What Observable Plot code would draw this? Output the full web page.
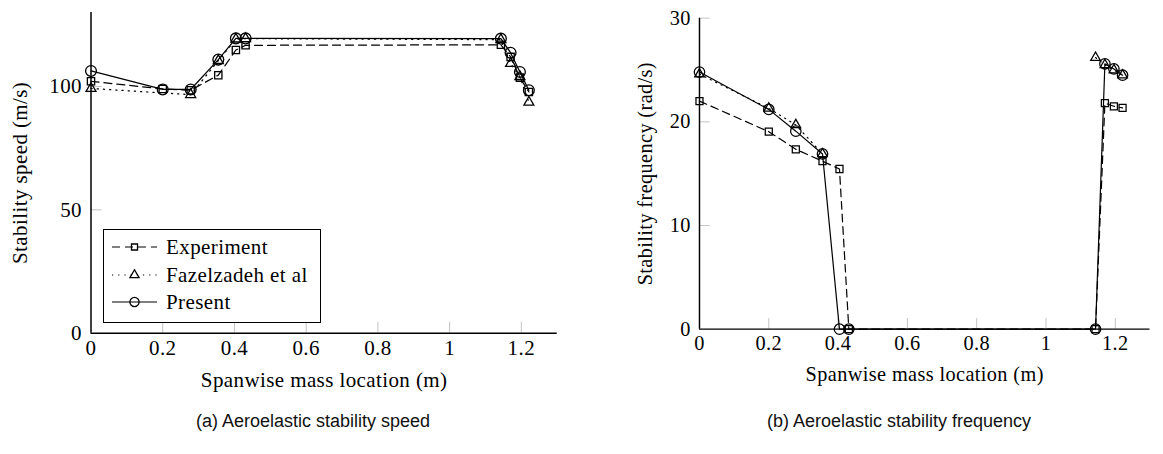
<!DOCTYPE html>
<html>
<head>
<meta charset="utf-8">
<script src="https://cdn.jsdelivr.net/npm/d3@7"></script>
<script src="https://cdn.jsdelivr.net/npm/@observablehq/plot@0.6"></script>
<style>
  html, body { margin: 0; padding: 0; background: #fff; overflow: hidden; }
  #wrap { position: relative; width: 1163px; height: 454px; overflow: hidden; background: #fff; }
  .panel { position: absolute; top: 0; }
  .panel svg, .panel svg text { font-family: "Liberation Serif", "DejaVu Serif", serif !important; letter-spacing: 0.4px; }
  .caption { position: absolute; top: 411px; font-family: "Liberation Sans", Arial, sans-serif; font-size: 18px; color: #111; transform: translateX(-50%); white-space: nowrap; }
  .legend { position: absolute; left: 103px; top: 229px; width: 216px; height: 92px; border: 1.2px solid #000; background: #fff; font-family: "Liberation Serif", "DejaVu Serif", serif; font-size: 21px; letter-spacing: 0.4px; color: #000; }
  .row { position: absolute; left: 0; height: 24px; }
  .row svg { position: absolute; left: 8px; top: 0; }
  .row span { position: absolute; left: 62px; top: 0; line-height: 24px; white-space: nowrap; }
</style>
</head>
<body>
<div id="wrap">
  <div id="left" class="panel" style="left:0px"></div>
  <div id="right" class="panel" style="left:583px"></div>
  <div id="legend" class="legend"></div>
  <div class="caption" style="left:313px">(a) Aeroelastic stability speed</div>
  <div class="caption" style="left:899px">(b) Aeroelastic stability frequency</div>
</div>
<script>
// ---- data ----
const spanLocation = [0, 0.2, 0.278, 0.355, 0.404, 0.431, 1.143, 1.170, 1.196, 1.221];

const speedExperiment  = [102.1, 99.0, 98.5, 104.6, 114.8, 116.7, 116.9, 112.0, 103.6, 97.8];
const speedFazelzadeh  = [99.2, null, 96.7, 110.5, 119.2, 119.4, 119.0, 109.3, 104.0, 93.6];
const speedPresent     = [106.3, 98.8, 98.8, 110.9, 119.5, 119.5, 119.4, 113.7, 105.9, 98.5];

const freqExperiment   = [22.0, 19.05, 17.35, 16.2, 15.45, 0, 0, 21.8, 21.5, 21.35];
const freqFazelzadeh   = [24.6, 21.3, 19.7, 16.9, null, null, 26.2, 25.5, 25.0, 24.5];
const freqPresent      = [24.8, 21.2, 19.1, 16.9, 0, 0, 0, 25.6, 25.1, 24.5];

const seriesNames = ["Experiment", "Fazelzadeh et al", "Present"];
const xTicks = [0, 0.2, 0.4, 0.6, 0.8, 1, 1.2];
const speedTicks = [0, 50, 100];
const freqTicks = [0, 10, 20, 30];

// ---- styles ----
const styles = {
  "Experiment":       {symbol: "square",   r: 4.1, dash: "8,5"},
  "Fazelzadeh et al": {symbol: "triangle", r: 3.7, dash: "1.2,5"},
  "Present":          {symbol: "circle",   r: 5.4, dash: null}
};
const FONT = '"Liberation Serif", "DejaVu Serif", serif';
const FS = 21;

function rowsFor(values, gapBreak) {
  const rows = [];
  let seg = 0;
  values.forEach((v, i) => {
    if (v == null) { if (gapBreak) seg++; return; }
    rows.push({x: spanLocation[i], y: v, seg});
  });
  return rows;
}

function panel({el, series, yDomain, yTicks, yLabel, width, marginLeft, marginRight, marginTop, marginBottom, yLabelDx}) {
  const height = 400;
  const frameW = width - marginLeft - marginRight;
  const frameH = height - marginTop - marginBottom;
  const marks = [
    Plot.ruleX(xTicks.filter(d => d > 0), {x: d => d, stroke: "#c2c2c2", strokeWidth: 1, insetTop: frameH - 11}),
    Plot.ruleY(yTicks.filter(d => d > 0), {y: d => d, stroke: "#c2c2c2", strokeWidth: 1, insetRight: frameW - 11}),
    Plot.axisX(xTicks, {tickSize: 0, tickPadding: 7, label: null, fontSize: FS, tickFormat: d => String(d)}),
    Plot.axisY(yTicks, {tickSize: 0, tickPadding: 9, label: null, fontSize: FS, tickFormat: d => String(d)}),
    Plot.text(["Spanwise mass location (m)"], {text: d => d, frameAnchor: "bottom", dy: 47, textAnchor: "middle", lineAnchor: "middle", fontSize: FS}),
    Plot.text([yLabel], {text: d => d, frameAnchor: "left", rotate: -90, dx: yLabelDx, textAnchor: "middle", lineAnchor: "middle", fontSize: FS})
  ];
  for (const s of series) {
    const st = styles[s.name];
    marks.push(Plot.line(s.rows, {x: "x", y: "y", z: "seg", stroke: "#000", strokeWidth: 1.25, strokeDasharray: st.dash}));
  }
  for (const s of series) {
    const st = styles[s.name];
    marks.push(Plot.dot(s.rows, {x: "x", y: "y", symbol: () => st.symbol, r: st.r, stroke: "#000", strokeWidth: 1.3, fill: "none"}));
  }
  marks.push(Plot.ruleX([0], {stroke: "#000", strokeWidth: 1.5}));
  marks.push(Plot.ruleY([0], {stroke: "#000", strokeWidth: 1.5}));
  const chart = Plot.plot({
    width, height, marginLeft, marginRight, marginTop, marginBottom,
    x: {domain: [0, 1.3], axis: null},
    y: {domain: yDomain, axis: null},
    symbol: {type: "identity"},
    style: {fontFamily: FONT, fontSize: FS + "px", background: "transparent", color: "#000", overflow: "visible"},
    marks
  });
  document.getElementById(el).appendChild(chart);
}

panel({
  el: "left",
  series: [
    {name: "Experiment", rows: rowsFor(speedExperiment, false)},
    {name: "Fazelzadeh et al", rows: rowsFor(speedFazelzadeh, false)},
    {name: "Present", rows: rowsFor(speedPresent, false)}
  ],
  yDomain: [0, 130], yTicks: speedTicks, yLabel: "Stability speed (m/s)",
  width: 580, marginLeft: 90.5, marginRight: 23.3, marginTop: 12, marginBottom: 67.3, yLabelDx: -71
});

panel({
  el: "right",
  series: [
    {name: "Experiment", rows: rowsFor(freqExperiment, true)},
    {name: "Fazelzadeh et al", rows: rowsFor(freqFazelzadeh, true)},
    {name: "Present", rows: rowsFor(freqPresent, true)}
  ],
  yDomain: [0, 30], yTicks: freqTicks, yLabel: "Stability frequency (rad/s)",
  width: 600, marginLeft: 120, marginRight: 14, marginTop: 18.3, marginBottom: 60, yLabelDx: -56
});

// ---- legend ----
const legend = document.getElementById("legend");
const rowTops = [5, 33, 60];
seriesNames.forEach((name, i) => {
  const st = styles[name];
  const row = document.createElement("div");
  row.className = "row";
  row.style.top = rowTops[i] + "px";
  row.style.width = "216px";
  const svg = d3.create("svg").attr("width", 46).attr("height", 24);
  svg.append("line").attr("x1", 0).attr("x2", 45).attr("y1", 12).attr("y2", 12)
    .attr("stroke", "#000").attr("stroke-width", 1.2).attr("stroke-dasharray", st.dash);
  const symType = st.symbol === "square" ? d3.symbolSquare : st.symbol === "triangle" ? d3.symbolTriangle : d3.symbolCircle;
  const rr = st.symbol === "circle" ? 4.6 : 3.4;
  svg.append("path").attr("d", d3.symbol(symType, Math.PI * rr * rr)()).attr("transform", "translate(22.5,12)")
    .attr("fill", "none").attr("stroke", "#000").attr("stroke-width", 1.3);
  row.appendChild(svg.node());
  const t = document.createElement("span");
  t.textContent = name;
  row.appendChild(t);
  legend.appendChild(row);
});
</script>
</body>
</html>
